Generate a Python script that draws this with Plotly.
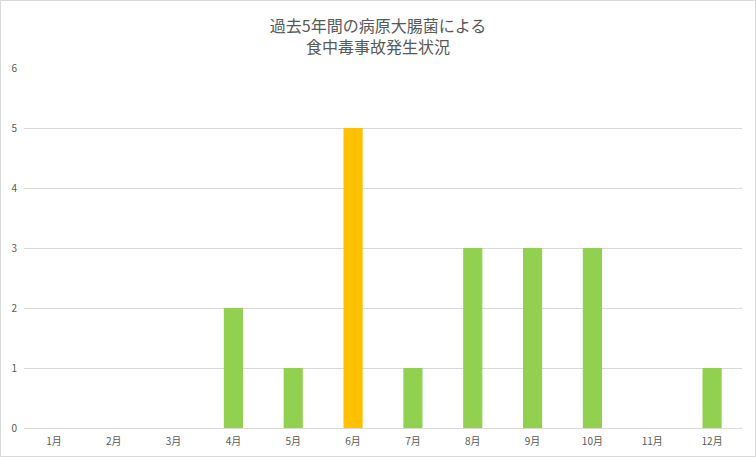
import plotly.graph_objects as go

months = ["1月", "2月", "3月", "4月", "5月", "6月",
          "7月", "8月", "9月", "10月", "11月", "12月"]
counts = [0, 0, 0, 2, 1, 5, 1, 3, 3, 3, 0, 1]
peak_month = "6月"

W, H = 756, 457
ml, mr, mt, mb = 24, 14, 68, 29
pw, ph = W - ml - mr, H - mt - mb

colors = ["#FFC000" if m == peak_month else "#92D050" for m in months]

fig = go.Figure(go.Bar(
    x=months,
    y=counts,
    marker=dict(color=colors, line=dict(width=0)),
    width=0.32,
))

fig.update_layout(
    width=W,
    height=H,
    margin=dict(l=ml, r=mr, t=mt, b=mb),
    paper_bgcolor="white",
    plot_bgcolor="white",
    font=dict(family="Noto Sans CJK JP", color="#595959"),
    title=dict(
        text="過去5年間の病原大腸菌による<br>食中毒事故発生状況",
        x=0.5,
        xanchor="center",
        y=1 - 32 / H,
        yanchor="middle",
        font=dict(size=16, color="#595959"),
    ),
    showlegend=False,
    xaxis=dict(
        showgrid=False,
        showline=True,
        linecolor="#D9D9D9",
        linewidth=1,
        ticks="",
        ticklabelstandoff=4,
        automargin=False,
        tickfont=dict(size=10, color="#595959"),
        fixedrange=True,
    ),
    yaxis=dict(
        range=[0, 6],
        dtick=1,
        showgrid=True,
        gridcolor="#D9D9D9",
        gridwidth=1,
        zeroline=False,
        showline=False,
        ticks="",
        ticklabelstandoff=6,
        automargin=False,
        tickfont=dict(size=10, color="#595959"),
        fixedrange=True,
    ),
    shapes=[dict(
        type="rect",
        xref="paper", yref="paper",
        x0=-(ml - 0.5) / pw, x1=1 + (mr - 0.5) / pw,
        y0=-(mb - 0.5) / ph, y1=1 + (mt - 0.5) / ph,
        line=dict(color="#D9D9D9", width=1),
        layer="below",
    )],
)

fig.write_html("out.html", config={"displayModeBar": False},
               post_script="document.body.style.margin='0';")
